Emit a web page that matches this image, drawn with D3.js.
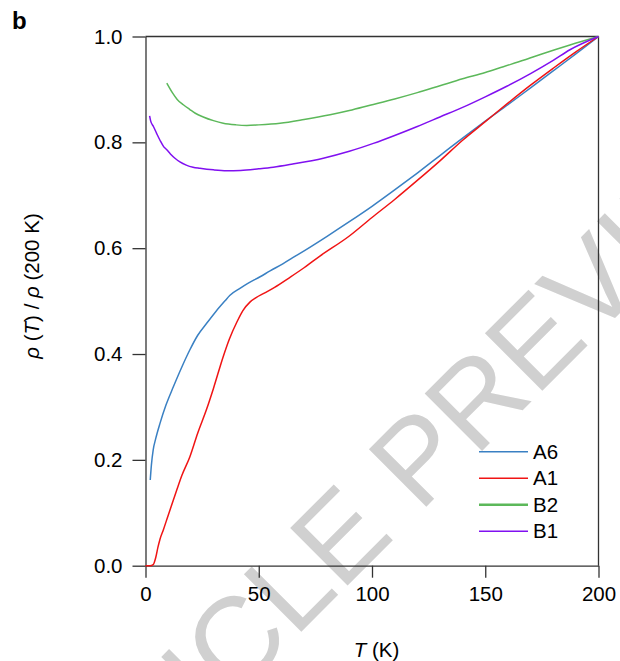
<!DOCTYPE html>
<html>
<head>
<meta charset="utf-8">
<script src="https://cdn.jsdelivr.net/npm/d3@7"></script>
<style>
  body { margin: 0; background: #fff; }
  svg text { font-family: "Liberation Sans", Arial, sans-serif; }
</style>
</head>
<body>
<div id="chart"></div>
<script>
// T (K), rho(T)/rho(200 K)
const a6 = [[2.1,0.162],[2.6,0.19],[3.4,0.219],[4.5,0.24],[6.4,0.269],[9,0.303],[12.3,0.338],[16,0.375],[19.6,0.408],[23,0.435],[27,0.458],[31,0.48],[35,0.5],[37.3,0.511],[41.7,0.524],[45,0.533],[50.6,0.546],[55,0.557],[60.8,0.571],[65,0.582],[70.4,0.596],[80,0.622],[90,0.65],[100,0.679],[110,0.71],[120,0.742],[130,0.775],[140,0.808],[150,0.84],[160,0.871],[170,0.903],[180,0.935],[190,0.967],[200,1.0]];
const a1 = [[0,0],[2,0],[3.4,0.002],[4.5,0.015],[5.5,0.035],[6.4,0.05],[7.9,0.068],[10,0.095],[12.3,0.124],[13.8,0.143],[16,0.17],[19.6,0.206],[23,0.25],[27,0.296],[30,0.335],[34.3,0.395],[37,0.428],[40.3,0.46],[43,0.482],[46.1,0.498],[49,0.507],[52,0.514],[57,0.526],[63.8,0.545],[70,0.563],[77,0.585],[90,0.623],[100,0.658],[110,0.692],[120,0.728],[130,0.765],[140,0.804],[150,0.839],[160,0.874],[170,0.908],[180,0.94],[190,0.971],[200,1.0]];
const b2 = [[9.4,0.912],[12,0.893],[14,0.881],[16.7,0.871],[19.6,0.862],[22,0.855],[25.5,0.848],[30,0.841],[34.3,0.836],[40,0.833],[44.7,0.832],[50,0.833],[59.4,0.836],[70,0.843],[81.5,0.852],[90,0.86],[99.1,0.87],[110,0.882],[120,0.894],[130,0.907],[140,0.92],[150,0.932],[158,0.943],[166.8,0.955],[175,0.967],[187.4,0.984],[200,1.0]];
const b1 = [[1.8,0.85],[2.3,0.84],[3.5,0.83],[4.9,0.817],[6.5,0.803],[8,0.792],[9.4,0.786],[11,0.778],[13,0.77],[15.2,0.763],[18,0.757],[21,0.753],[24,0.751],[30,0.748],[35.8,0.7465],[42,0.747],[50,0.75],[56.4,0.753],[65,0.759],[78.5,0.77],[90,0.783],[100.6,0.798],[110,0.813],[120,0.83],[130,0.848],[140,0.866],[150,0.886],[159.5,0.906],[170,0.93],[180,0.955],[187.4,0.975],[200,1.0]];

const seriesNames = ['A6', 'A1', 'B2', 'B1'];
const seriesColors = ['#3a80c3', '#f01414', '#5cb85a', '#8010f0'];
const xTicks = [0, 50, 100, 150, 200];
const yTicks = [0.0, 0.2, 0.4, 0.6, 0.8, 1.0];

const width = 620, height = 661;
const margin = { top: 36.5, right: 21.5, bottom: 95.3, left: 145.5 };
const fontSize = '20.5px';

const svg = d3.select('#chart').append('svg')
    .attr('width', width)
    .attr('height', height);

// watermark underneath everything
svg.append('text')
    .attr('transform', 'translate(425,508) rotate(-45)')
    .attr('text-anchor', 'middle')
    .style('font-size', '118px')
    .style('fill', '#d0d0d0')
    .text('ARTICLE PREVIEW');

const x = d3.scaleLinear().domain([0, 200]).range([margin.left, width - margin.right]);
const y = d3.scaleLinear().domain([0, 1]).range([height - margin.bottom, margin.top]);

const axisColor = '#333';

// frame: top and right
svg.append('line')
    .attr('x1', x(0)).attr('x2', x(200))
    .attr('y1', y(1)).attr('y2', y(1))
    .attr('stroke', axisColor).attr('stroke-width', 1.3);
svg.append('line')
    .attr('x1', x(200)).attr('x2', x(200))
    .attr('y1', y(0)).attr('y2', y(1))
    .attr('stroke', axisColor).attr('stroke-width', 1.3);

const xAxis = svg.append('g')
    .attr('transform', `translate(0,${y(0)})`)
    .call(d3.axisBottom(x).tickValues(xTicks).tickFormat(d3.format('d')).tickSize(12).tickSizeOuter(0).tickPadding(9));

const yAxis = svg.append('g')
    .attr('transform', `translate(${x(0)},0)`)
    .call(d3.axisLeft(y).tickValues(yTicks).tickFormat(d3.format('.1f')).tickSize(13).tickSizeOuter(0).tickPadding(10));

[xAxis, yAxis].forEach(ax => {
    ax.select('.domain').attr('stroke', axisColor).attr('stroke-width', 1.3);
    ax.selectAll('.tick line').attr('stroke', axisColor).attr('stroke-width', 1.3);
    ax.selectAll('.tick text')
        .style('font-size', fontSize)
        .style('fill', '#000')
        .style('font-family', '"Liberation Sans", Arial, sans-serif');
});

// curves
const line = d3.line()
    .x(d => x(d[0]))
    .y(d => y(d[1]))
    .curve(d3.curveMonotoneX);

const allSeries = [a6, a1, b2, b1];
allSeries.forEach((data, i) => {
    svg.append('path')
        .datum(data)
        .attr('fill', 'none')
        .attr('stroke', seriesColors[i])
        .attr('stroke-width', 1.5)
        .attr('d', line);
});

// legend
const legend = svg.append('g').attr('transform', 'translate(479,451.7)');
seriesNames.forEach((name, i) => {
    const ly = i * 26.5;
    legend.append('line')
        .attr('x1', 0).attr('x2', 49)
        .attr('y1', ly).attr('y2', ly)
        .attr('stroke', seriesColors[i])
        .attr('stroke-width', name === 'B2' ? 2.5 : 1.4);
    legend.append('text')
        .attr('x', 54)
        .attr('y', ly)
        .attr('dy', '0.35em')
        .style('font-size', fontSize)
        .text(name);
});

// axis titles
const xTitle = svg.append('text')
    .attr('x', 376.5)
    .attr('y', 657)
    .attr('text-anchor', 'middle')
    .style('font-size', fontSize);
xTitle.append('tspan').style('font-style', 'italic').text('T');
xTitle.append('tspan').text(' (K)');

const yTitle = svg.append('text')
    .attr('transform', 'translate(39,286) rotate(-90)')
    .attr('text-anchor', 'middle')
    .style('font-size', fontSize);
yTitle.append('tspan').style('font-style', 'italic').text('ρ');
yTitle.append('tspan').text(' (');
yTitle.append('tspan').style('font-style', 'italic').text('T');
yTitle.append('tspan').text(') / ');
yTitle.append('tspan').style('font-style', 'italic').text('ρ');
yTitle.append('tspan').text(' (200 K)');

// panel letter
svg.append('text')
    .attr('x', 12)
    .attr('y', 29)
    .style('font-size', '24px')
    .style('font-weight', 'bold')
    .text('b');
</script>
</body>
</html>
